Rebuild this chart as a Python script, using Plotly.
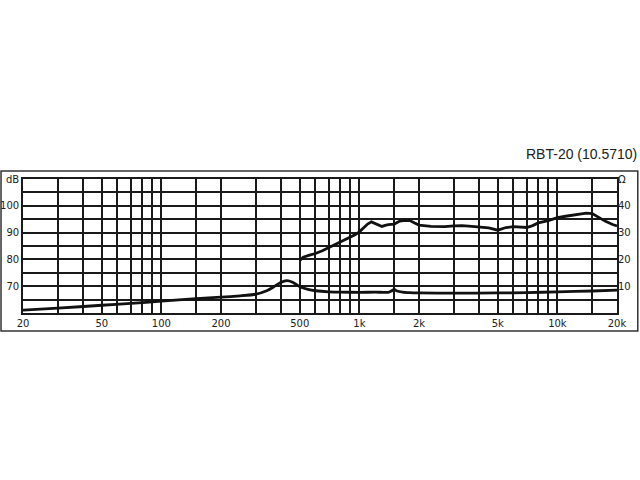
import plotly.graph_objects as go

# impedance-style lower curve (read on the dB scale)
imp_freq = [20, 30, 50, 70, 100, 150, 200, 250, 300, 340, 370, 400, 430, 460, 500,
            550, 600, 700, 800, 1000, 1200, 1400, 1450, 1500, 1550, 1650, 1800, 2000,
            3000, 5000, 7000, 10000, 15000, 20000]
imp_db = [61.1, 61.8, 62.9, 63.6, 64.4, 65.4, 65.9, 66.4, 67.0, 68.3, 69.8, 71.4, 72.1,
          71.5, 69.8, 68.8, 68.3, 67.9, 67.8, 67.7, 67.8, 67.7, 68.2, 68.8, 68.2, 67.8,
          67.6, 67.5, 67.4, 67.5, 67.6, 67.9, 68.2, 68.5]

# frequency response, starts at 500 Hz
spl_freq = [500, 520, 560, 600, 650, 700, 750, 800, 850, 900, 950, 1000, 1050, 1100,
            1150, 1200, 1250, 1300, 1350, 1400, 1500, 1600, 1700, 1800, 1900, 2000,
            2300, 2700, 3000, 3300, 3700, 4000, 4500, 5000, 5500, 6000, 6500, 7000,
            7500, 8000, 9000, 10000, 11000, 12000, 13000, 14000, 15000, 16000, 17500,
            19000, 20000]
spl_db = [79.6, 80.8, 81.6, 82.2, 83.2, 84.4, 85.4, 86.3, 87.3, 88.3, 89.2, 90.3, 91.8,
          93.2, 94.0, 93.5, 93.0, 92.3, 92.7, 93.0, 93.2, 94.3, 94.6, 94.5, 93.6, 92.8,
          92.3, 92.2, 92.5, 92.6, 92.3, 92.2, 91.8, 90.9, 91.9, 92.2, 92.0, 91.9, 92.6,
          93.6, 94.5, 95.6, 96.1, 96.5, 96.9, 97.3, 97.1, 95.8, 94.2, 93.0, 92.5]

x_grid = [20, 30, 40, 50, 60, 70, 80, 90, 100, 150, 200, 300, 400, 500, 600, 700, 800,
          900, 1000, 1500, 2000, 3000, 4000, 5000, 6000, 7000, 8000, 9000, 10000,
          15000, 20000]
x_labels = {20: "20", 50: "50", 100: "100", 200: "200", 500: "500", 1000: "1k",
            2000: "2k", 5000: "5k", 10000: "10k", 20000: "20k"}

db_grid = [60, 65, 70, 75, 80, 85, 90, 95, 100, 105, 110]
db_labels = {70: "70", 80: "80", 90: "90", 100: "100", 110: "dB"}
ohm_grid = [0, 5, 10, 15, 20, 25, 30, 35, 40, 45, 50]
ohm_labels = {10: "10", 20: "20", 30: "30", 40: "40", 50: "Ω"}

line = dict(color="#111111", width=2.8)
fig = go.Figure()
fig.add_trace(go.Scatter(x=imp_freq, y=imp_db, mode="lines", line=dict(shape="spline", smoothing=0.6, **line)))
fig.add_trace(go.Scatter(x=spl_freq, y=spl_db, mode="lines", line=line))
# dummy trace so the right axis is drawn
fig.add_trace(go.Scatter(x=[20], y=[0], yaxis="y2", mode="lines", line=dict(width=0),
                         hoverinfo="skip"))

tickfont = dict(family="DejaVu Sans", size=10, color="#222222")
grid = dict(showgrid=True, gridcolor="#1a1a1a", gridwidth=1.6, ticks="", zeroline=False,
            automargin=False)

fig.update_layout(
    width=640, height=480, autosize=False,
    margin=dict(l=23, r=23, t=179, b=167),
    paper_bgcolor="white", plot_bgcolor="white",
    showlegend=False,
    xaxis=dict(type="log", range=[1.30103, 4.30103],
               tickvals=x_grid, ticktext=[x_labels.get(v, "") for v in x_grid],
               tickfont=tickfont, showline=True, mirror=True,
               linecolor="#1a1a1a", linewidth=1.6, **grid),
    yaxis=dict(range=[60, 110], tickvals=db_grid,
               ticktext=[db_labels.get(v, "") for v in db_grid],
               tickfont=tickfont, showline=True, mirror=True,
               linecolor="#1a1a1a", linewidth=1.6, **grid),
    yaxis2=dict(range=[0, 50], overlaying="y", side="right", tickvals=ohm_grid,
                ticktext=[ohm_labels.get(v, "") for v in ohm_grid],
                tickfont=tickfont, showgrid=False, ticks="", zeroline=False,
                automargin=False),
    shapes=[dict(type="rect", xref="paper", yref="paper",
                 x0=-0.037, x1=1.035, y0=-0.134, y1=1.06,
                 line=dict(color="#333333", width=1.5))],
    annotations=[dict(text="RBT-20 (10.5710)", xref="paper", yref="paper",
                      x=1.037, y=1.19, xanchor="right", yanchor="middle",
                      showarrow=False,
                      font=dict(family="Liberation Sans, Arial", size=14, color="#222222"))],
)

# page body has an 8px default margin; drop it so the 640x480 figure fits the window
fig.write_html("out.html", config={"displayModeBar": False},
               post_script="document.body.style.margin='0';")
